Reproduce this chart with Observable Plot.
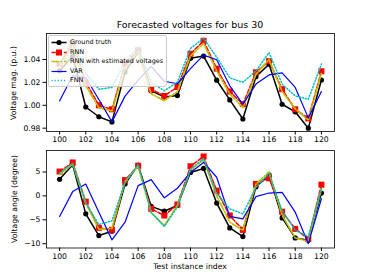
<!DOCTYPE html>
<html><head><meta charset="utf-8">
<script src="https://cdn.jsdelivr.net/npm/d3@7"></script>
<script src="https://cdn.jsdelivr.net/npm/@observablehq/plot@0.6"></script>
<style>
body{margin:0;background:#fff;font-family:"DejaVu Sans",sans-serif;}
#chart{position:relative;width:371px;height:279px;overflow:hidden;background:#fff;}
.abs{position:absolute;white-space:nowrap;color:#000;}
#legend{position:absolute;left:48px;top:35px;width:119px;height:52px;box-sizing:border-box;border:1px solid #cccccc;border-radius:2px;background:rgba(255,255,255,0.8);}
.row{position:absolute;left:0;width:117px;height:9px;font-size:6.4px;line-height:9px;white-space:nowrap;}
.row svg{position:absolute;left:2px;top:0;}
.row span{position:absolute;left:21px;top:0;white-space:nowrap;}
</style></head><body><div id="chart"></div><script>
const idx = [100,101,102,103,104,105,106,107,108,109,110,111,112,113,114,115,116,117,118,119,120];
const xTicks = [100,102,104,106,108,110,112,114,116,118,120];
const magTicks = [0.98,1.00,1.02,1.04];
const angTicks = [-10,-5,0,5];
const seriesNames = ["Ground truth","RNN","RNN with estimated voltages","VAR","FNN"];

const gtMag  = [1.030,1.043,0.9985,0.990,0.9855,1.029,1.0465,1.0126,1.0073,1.0085,1.041,1.043,1.0219,1.0047,0.988,1.025,1.0359,1.0009,0.9943,0.980,1.0221];
const rnnMag = [1.036,1.054,1.020,1.000,0.9965,1.036,1.048,1.014,1.0082,1.016,1.045,1.0563,1.032,1.012,1.001,1.0288,1.0385,1.0141,0.9965,0.9885,1.0297];
const estMag = [1.034,1.052,1.017,0.998,0.995,1.033,1.047,1.010,1.004,1.012,1.043,1.054,1.030,1.010,0.998,1.027,1.040,1.012,0.997,0.987,1.028];
const varMag = [1.0038,1.026,1.024,1.005,0.9855,1.008,1.022,1.034,1.021,1.0188,1.032,1.0438,1.0398,1.017,1.001,1.0185,1.0265,1.0283,1.0156,0.989,1.012];
const fnnMag = [1.037,1.056,1.028,1.014,1.0156,1.038,1.051,1.020,1.0126,1.0203,1.0497,1.0586,1.042,1.024,1.020,1.030,1.046,1.0185,1.0082,1.0053,1.036];

const gtAng  = [3.46,6.5,-3.75,-8.3,-7.4,2.5,6.45,-2.2,-3.2,-2.0,4.9,5.75,-1.5,-6.7,-8.5,1.9,4.4,-4.6,-8.8,-9.3,0.6];
const rnnAng = [5.1,7.0,-1.2,-6.7,-7.1,3.3,6.3,-2.7,-4.1,-1.8,6.2,8.25,1.1,-4.1,-7.1,2.5,3.7,-3.3,-6.9,-9.0,2.35];
const estAng = [4.5,6.6,-1.5,-7.0,-6.8,3.0,6.2,-3.5,-6.2,-2.0,5.5,7.5,0.0,-5.5,-7.2,2.5,5.0,-4.0,-8.8,-9.5,1.5];
const varAng = [-4.3,0.9,2.5,-3.4,-9.2,-5.5,2.15,3.4,-0.4,1.6,4.9,7.0,3.9,-4.3,-4.8,-0.15,0.6,0.75,-3.4,-10.0,-0.6];
const fnnAng = [4.8,6.8,-1.5,-6.0,-5.2,2.8,6.5,-3.5,-6.4,-2.3,5.6,7.8,0.5,-2.7,-3.75,1.8,4.7,-3.1,-7.2,-8.5,1.5];

// styles (kept separate from data)
const styles = [
  {color:"#000000", dash:null, width:1.5, marker:"circle", r:2.6},
  {color:"#ff0000", dash:"4.3,1.9", width:1.5, marker:"square", r:3.4},
  {color:"#bfbf00", dash:"7.4,1.9,1.2,1.9", width:1.7, marker:null},
  {color:"#0000ff", dash:null, width:1.2, marker:null},
  {color:"#00bfbf", dash:"1.2,1.9", width:1.5, marker:null}
];

function panel(values, opts) {
  const marks = [];
  values.forEach((vals, i) => {
    const s = styles[i];
    const data = idx.map((x, j) => ({x, y: vals[j]}));
    marks.push(Plot.line(data, {x:"x", y:"y", stroke:s.color, strokeWidth:s.width, strokeDasharray:s.dash}));
    if (s.marker) marks.push(Plot.dot(data, {x:"x", y:"y", symbol:s.marker, r:s.r, fill:s.color, stroke:"none"}));
  });
  marks.push(Plot.frame({stroke:"#000", strokeWidth:0.8}));
  marks.push(Plot.axisX({ticks:xTicks, tickSize:3.5, tickPadding:2, label:null, tickFormat:d3.format("d")}));
  marks.push(Plot.axisY({ticks:opts.yTicks, tickSize:3.5, tickPadding:2.5, label:null, tickFormat:opts.fmt}));
  return Plot.plot({
    width:371, height:opts.height,
    marginLeft:46, marginRight:37, marginTop:opts.mt, marginBottom:opts.mb,
    x:{domain:[99,121]},
    y:{domain:opts.domain},
    style:{fontSize:"7.7px", fontFamily:"DejaVu Sans", color:"#000", background:"transparent", overflow:"visible"},
    marks
  });
}

const chart = document.getElementById("chart");
const minusFmt = d => (d < 0 ? "\u2212" + Math.abs(d) : String(d));

const topPanel = panel([gtMag, rnnMag, estMag, varMag, fnnMag], {height:145, mt:33, mb:14, domain:[0.9771,1.0627], yTicks:magTicks, fmt:d3.format(".2f")});
topPanel.style.position = "absolute"; topPanel.style.left = "0px"; topPanel.style.top = "0px";
chart.appendChild(topPanel);

const botPanel = panel([gtAng, rnnAng, estAng, varAng, fnnAng], {height:139, mt:10, mb:31.5, domain:[-10.9,9.5], yTicks:angTicks, fmt:minusFmt});
botPanel.style.position = "absolute"; botPanel.style.left = "0px"; botPanel.style.top = "140px";
chart.appendChild(botPanel);

function addText(txt, css) {
  const d = document.createElement("div");
  d.className = "abs";
  d.textContent = txt;
  Object.assign(d.style, css);
  chart.appendChild(d);
  return d;
}
addText("Forecasted voltages for bus 30", {left:"46px", width:"288px", textAlign:"center", top:"19px", fontSize:"9.5px", lineHeight:"12px"});
addText("Test instance index", {left:"46px", width:"288px", textAlign:"center", top:"261px", fontSize:"7.7px", lineHeight:"12px"});
addText("Voltage mag. (p.u.)", {left:(13.5-60)+"px", width:"120px", textAlign:"center", top:(83-5)+"px", fontSize:"7.7px", lineHeight:"10px", height:"10px", transform:"rotate(-90deg)", transformOrigin:"50% 50%"});
addText("Voltage angle (degree)", {left:(15-60)+"px", width:"120px", textAlign:"center", top:(199-5)+"px", fontSize:"7.7px", lineHeight:"10px", height:"10px", transform:"rotate(-90deg)", transformOrigin:"50% 50%"});

// legend
const leg = document.createElement("div");
leg.id = "legend";
chart.appendChild(leg);
seriesNames.forEach((name, i) => {
  const s = styles[i];
  const row = document.createElement("div");
  row.className = "row";
  row.style.top = (2.3 + 9.5 * i) + "px";
  let mk = "";
  if (s.marker === "circle") mk = `<circle cx="8" cy="4.5" r="2.6" fill="${s.color}"/>`;
  if (s.marker === "square") mk = `<rect x="5" y="1.5" width="6" height="6" fill="${s.color}"/>`;
  row.innerHTML = `<svg width="17" height="9"><line x1="0.5" x2="15.5" y1="4.5" y2="4.5" stroke="${s.color}" stroke-width="${s.width}" ${s.dash ? `stroke-dasharray="${s.dash}"` : ""}/>${mk}</svg><span>${name}</span>`;
  leg.appendChild(row);
});
</script></body></html>
